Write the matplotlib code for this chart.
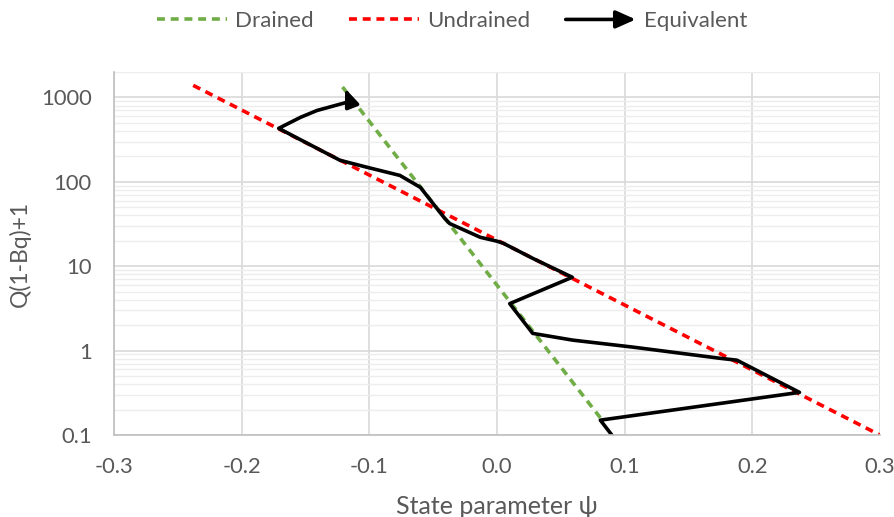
import matplotlib
matplotlib.use("Agg")
import matplotlib.pyplot as plt
from matplotlib.legend_handler import HandlerBase
from matplotlib.patches import FancyArrowPatch
from matplotlib.lines import Line2D

plt.rcParams['font.family'] = ['Lato', 'DejaVu Sans']

# line end points
drained_psi = [-0.121, 0.081]
drained_q = [1330, 0.16]
undrained_psi = [-0.238, 0.30]
undrained_q = [1390, 0.10]

# equivalent path, from bottom to the arrow tip
equiv_psi = [0.090, 0.081, 0.237, 0.188, 0.175, 0.1065, 0.0595, 0.028, 0.010,
             0.059, 0.028, 0.005, 0.000, -0.013, -0.037, -0.041,
             -0.060, -0.076, -0.102, -0.123, -0.171, -0.154, -0.141, -0.115, -0.119]
equiv_q = [0.10, 0.15, 0.32, 0.77, 0.81, 1.10, 1.33, 1.60, 3.6,
           7.4, 12.4, 18.7, 19.8, 22, 32, 37,
           86, 119, 149, 180, 430, 580, 700, 897, 1280]

xticks = [-0.3, -0.2, -0.1, 0.0, 0.1, 0.2, 0.3]
yticks = [0.1, 1, 10, 100, 1000]
ylabels = ['0.1', '1', '10', '100', '1000']

txt = '#595959'
grid = '#d9d9d9'

fig = plt.figure(figsize=(8.95, 5.17), dpi=100)
ax = fig.add_axes([0.1274, 0.1586, 0.8557, 0.7021])

ax.plot(drained_psi, drained_q, color='#70ad47', lw=2.6, ls=(0, (2.2, 1.6)))
ax.plot(undrained_psi, undrained_q, color='#ff0000', lw=2.6, ls=(0, (2.2, 1.6)))
ax.plot(equiv_psi[:-1], equiv_q[:-1], color='black', lw=2.6, solid_joinstyle='round')
ax.annotate('', xy=(equiv_psi[-1], equiv_q[-1]), xytext=(equiv_psi[-2], equiv_q[-2]),
            arrowprops=dict(arrowstyle='-|>,head_length=0.75,head_width=0.3',
                            color='black', lw=2.6, shrinkA=0, shrinkB=0,
                            mutation_scale=14))

ax.set_yscale('log')
ax.set_xlim(-0.3, 0.3)
ax.set_ylim(0.1, 2000)
ax.set_xticks(xticks)
ax.set_xticklabels(['%.1f' % v for v in xticks])
ax.set_yticks(yticks)
ax.set_yticklabels(ylabels)
ax.tick_params(axis='both', which='both', length=0, labelsize=15.8, colors=txt, pad=16)
ax.tick_params(axis='y', which='minor', labelleft=False)

ax.grid(True, which='major', color=grid, lw=1.2)
ax.grid(True, which='minor', axis='y', color='#ededed', lw=1.0)
ax.set_axisbelow(True)
for s in ['top', 'right']:
    ax.spines[s].set_visible(False)
for s in ['left', 'bottom']:
    ax.spines[s].set_color('#bfbfbf')
    ax.spines[s].set_linewidth(1.2)

ax.set_xlabel('State parameter ψ', fontsize=18, color=txt, labelpad=13)
ax.set_ylabel('Q(1-Bq)+1', fontsize=16.5, color=txt, labelpad=7)


class ArrowHandler(HandlerBase):
    def create_artists(self, legend, orig_handle, xdescent, ydescent,
                       width, height, fontsize, trans):
        y = height / 2 - ydescent
        a = FancyArrowPatch((-xdescent, y), (-xdescent + width, y),
                            arrowstyle='-|>,head_length=0.85,head_width=0.38',
                            color='black', lw=2.6, shrinkA=0, shrinkB=0,
                            mutation_scale=14, transform=trans)
        return [a]


h1 = Line2D([], [], color='#70ad47', lw=2.6, ls=(0, (2.2, 1.6)))
h2 = Line2D([], [], color='#ff0000', lw=2.6, ls=(0, (2.2, 1.6)))
h3 = Line2D([], [], color='black', lw=2.6)
leg = fig.legend([h1, h2, h3], ['Drained', 'Undrained', 'Equivalent'],
                 loc='upper center', bbox_to_anchor=(0.505, 1.017), ncol=3,
                 frameon=False, fontsize=16, handlelength=3.15,
                 columnspacing=1.6, handletextpad=0.36,
                 handler_map={h3: ArrowHandler()})
for t in leg.get_texts():
    t.set_color(txt)

fig.savefig('out.png', dpi=100)
